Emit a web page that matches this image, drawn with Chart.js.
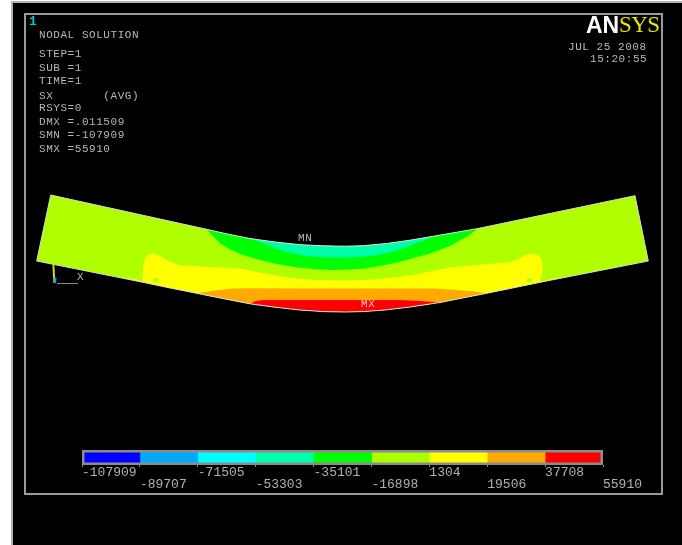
<!DOCTYPE html>
<html>
<head>
<meta charset="utf-8">
<title>ANSYS nodal solution SX</title>
<script src="https://cdn.jsdelivr.net/npm/chart.js@4"></script>
<style>
  html, body { margin: 0; padding: 0; background: #fff; overflow: hidden; }
  #page { position: relative; width: 682px; height: 545px; overflow: hidden; filter: blur(.35px); }
  #screen { position: absolute; left: 11px; top: 1px; right: 0; bottom: 0; background: #000;
            border-left: 2px solid #b4b4ac; border-top: 2px solid #b4b4ac; }
  #frame { position: absolute; left: 24px; top: 13px; width: 635px; height: 478px; border: 2px solid #9a9a9a; }
  #plot, #key { position: absolute; left: 0; }
  #plot { top: 0; }
  #key { top: 440px; }
  .t { position: absolute; font: 11px/12px "Liberation Mono", monospace; letter-spacing: .55px;
       color: #b8b8b8; white-space: pre; }
</style>
</head>
<body>
<div id="page">
  <div id="screen"></div>
  <div id="frame"></div>
  <canvas id="plot" width="682" height="545"></canvas>
  <canvas id="key" width="682" height="55"></canvas>

  <div class="t" style="left:29px;top:16px;color:#00c8c8;font-size:13px;font-weight:bold">1</div>
  <div class="t" style="left:39px;top:29px">NODAL SOLUTION</div>
  <div class="t" style="left:39px;top:48px">STEP=1</div>
  <div class="t" style="left:39px;top:62px">SUB =1</div>
  <div class="t" style="left:39px;top:75px">TIME=1</div>
  <div class="t" style="left:39px;top:90px">SX       (AVG)</div>
  <div class="t" style="left:39px;top:102px">RSYS=0</div>
  <div class="t" style="left:39px;top:116px">DMX =.011509</div>
  <div class="t" style="left:39px;top:129px">SMN =-107909</div>
  <div class="t" style="left:39px;top:143px">SMX =55910</div>

  <div class="t" style="left:586px;top:11px;font:bold 23px/28px 'Liberation Sans';letter-spacing:0;color:#fff">AN</div>
  <div class="t" style="left:619px;top:11px;font:23px/28px 'Liberation Serif';letter-spacing:-.6px;color:#e6e600">SYS</div>
  <div class="t" style="left:568px;top:41px">JUL 25 2008</div>
  <div class="t" style="left:590px;top:53px">15:20:55</div>

  <div class="t" style="left:298px;top:232px">MN</div>
  <div class="t" style="left:361px;top:298px;color:#ffc8c8">MX</div>
  <div class="t" style="left:77px;top:271px">X</div>
</div>

<script>
// contour levels of SX
const levels = [-107909, -89707, -71505, -53303, -35101, -16898, 1304, 19506, 37708, 55910];
const levelLabels = ['-107909', '-89707', '-71505', '-53303', '-35101', '-16898', '1304', '19506', '37708', '55910'];
const levelColors = ['#0000ff', '#00aaff', '#00ffff', '#00ffaa', '#00ff00', '#aaff00', '#ffff00', '#ffaa00', '#ff0000'];

// edges of the bent beam (left to right)
const topArc = [[206.7,229.3],[225,233.5],[250,238.5],[275,242],[300,244.7],[323,245.8],[345,246.2],[363,245.7],[386.7,243.5],[410,240.2],[433,236.3],[455,232.5],[478,228.5]];
const bottomArc = [[143,282.3],[170,288],[196.7,293.3],[225,299],[250,303.8],[275,307.2],[300,310],[323,311.6],[345,312],[363,311.6],[385,310],[410,307],[440,302.5],[465,297.5],[486.7,293.3],[515,287.5],[543,281.7]];

// contour boundaries inside the beam
const greenLower = [[468,236],[450,246],[430,253.5],[413,258.3],[395,263],[380,266],[365,268.5],[350,269.5],[333,270],[316.7,269.3],[297,267.5],[276.7,264],[258,259.5],[243,255],[230,249.5],[220,243.3],[212,235]];
const tealLower = [[425,240],[412,245],[400,249.5],[390,252.5],[375,255.5],[360,257],[340,257.5],[320,257],[306.7,256],[292,253],[280,250],[268,245]];
const yellowUpper = [[142.5,275],[143,268.3],[144,262],[145.5,257.5],[149,254.5],[153.3,253.3],[158,255],[165,259],[172,262.5],[180,265],[195,266.3],[210,267],[228,267.8],[243,269],[262,273],[283,276.7],[300,279],[316.7,280],[345,280.5],[366.7,280],[390,278],[413,275],[430,271.5],[450,267.5],[470,265.5],[490,264],[510,262.3],[519,258.5],[526.7,254.5],[533,253.8],[538,255],[541.5,259],[542.7,266.7],[542,274],[540,281]];
const orangeUpper = [[205,292],[213,290.7],[228,289],[243,288.2],[300,288.4],[367,288.6],[433,288.6],[467,290.7],[478,292]];
const redUpper = [[255,301.3],[263,300],[400,300],[420,301]];

const beamLeftEnd = [[50.7,195],[36.7,261]];
const beamRightEnd = [[635,195.7],[648.3,261]];

const yellowEdgeLeft = [[122,277.6],[136,279],[147,283.4],[143,282.3]];
const yellowEdgeRight = [[540,282.3],[552,278.6],[564,277.2],[543,281.7]];
const islandLeft = [[153,279],[157,277.6],[159,280],[157,282.6],[153.6,282]];
const islandRight = [[526.6,279],[530,277.6],[532.4,280],[531,282.6],[527,282]];

// small triad at the lower left corner
const triadStem = [[53.4,265],[54.4,283]];
const triadMark = [[54,277],[56.6,278],[56,283],[53.6,283]];
const triadAxis = [[57,283.5],[78,283.5]];

const beam = [beamLeftEnd[0], ...topArc, ...beamRightEnd, ...bottomArc.slice().reverse(), beamLeftEnd[1]];
const greenBand = [...topArc, ...greenLower];
const tealBand = [...topArc.slice(2, 11), ...tealLower];
const yellowBand = [...yellowUpper, ...bottomArc.slice().reverse()];
const orangeBand = [...orangeUpper, ...bottomArc.slice(2, 15).reverse()];
const redBand = [...redUpper, ...bottomArc.slice(4, 13).reverse()];

function toPoints(list) {
  return list.map(p => ({ x: p[0], y: p[1] }));
}

function shape(list, color) {
  return { data: toPoints(list), showLine: true, fill: 'shape', backgroundColor: color, borderWidth: 0, pointRadius: 0 };
}

function line(list, color, width) {
  return { data: toPoints(list), showLine: true, fill: false, borderColor: color, borderWidth: width, pointRadius: 0 };
}

const plotSets = [
  shape(beam, '#b0ff00'),
  shape(yellowBand, levelColors[6]),
  shape(yellowEdgeLeft, levelColors[6]),
  shape(yellowEdgeRight, levelColors[6]),
  shape(islandLeft, '#b0ff00'),
  shape(islandRight, '#b0ff00'),
  shape(orangeBand, levelColors[7]),
  shape(redBand, levelColors[8]),
  shape(greenBand, levelColors[4]),
  shape(tealBand, levelColors[3]),
  line([...beam, beam[0]], '#d8d8d8', 1),
  line(triadStem, '#c8e020', 2),
  shape(triadMark, '#20a8c0'),
  line(triadAxis, '#8c8c8c', 1)
];
// chart.js paints lower order last, so first item here goes to the bottom
plotSets.forEach((d, i) => { d.order = plotSets.length - i; });

new Chart(document.getElementById('plot').getContext('2d'), {
  type: 'scatter',
  data: { datasets: plotSets },
  options: {
    responsive: false,
    animation: false,
    events: [],
    layout: { padding: 0 },
    plugins: { legend: { display: false }, tooltip: { enabled: false } },
    scales: {
      x: { type: 'linear', min: 0, max: 682, display: false },
      y: { type: 'linear', min: 0, max: 545, reverse: true, display: false }
    }
  }
});

// key frame around the colour bar
const keyFrame = {
  id: 'keyFrame',
  afterDraw(chart) {
    const a = chart.chartArea;
    const c = chart.ctx;
    c.save();
    c.strokeStyle = '#8c8c8c';
    c.lineWidth = 2.5;
    c.strokeRect(a.left + 1.25, a.top + 1.25, a.width - 2.5, a.height - 2.5);
    c.restore();
  }
};

new Chart(document.getElementById('key').getContext('2d'), {
  type: 'bar',
  data: {
    labels: ['SX'],
    datasets: levelColors.map((color, i) => ({
      data: [[levels[i], levels[i + 1]]],
      backgroundColor: color,
      grouped: false,
      barPercentage: 1,
      categoryPercentage: 1
    }))
  },
  options: {
    indexAxis: 'y',
    responsive: false,
    animation: false,
    events: [],
    layout: { padding: { left: 82, right: 79, top: 10, bottom: 0 } },
    plugins: { legend: { display: false }, tooltip: { enabled: false } },
    scales: {
      y: { display: false },
      x: {
        type: 'linear',
        min: levels[0],
        max: levels[levels.length - 1],
        afterBuildTicks(axis) { axis.ticks = levels.map(v => ({ value: v })); },
        // the two label rows need more room than the layout gives an axis by default
        afterFit(axis) { axis.height = 30; },
        grid: { drawOnChartArea: false, tickLength: 2, tickColor: '#8c8c8c' },
        border: { display: false },
        ticks: {
          autoSkip: false,
          maxRotation: 0,
          minRotation: 0,
          align: 'start',
          padding: 0,
          color: '#b0b0b0',
          font: { family: '"Liberation Mono", monospace', size: 13, lineHeight: 0.9 },
          // every other label sits on the second row
          callback(value, index) {
            return index % 2 ? ['', levelLabels[index]] : [levelLabels[index], ''];
          }
        }
      }
    }
  },
  plugins: [keyFrame]
});
</script>
</body>
</html>
